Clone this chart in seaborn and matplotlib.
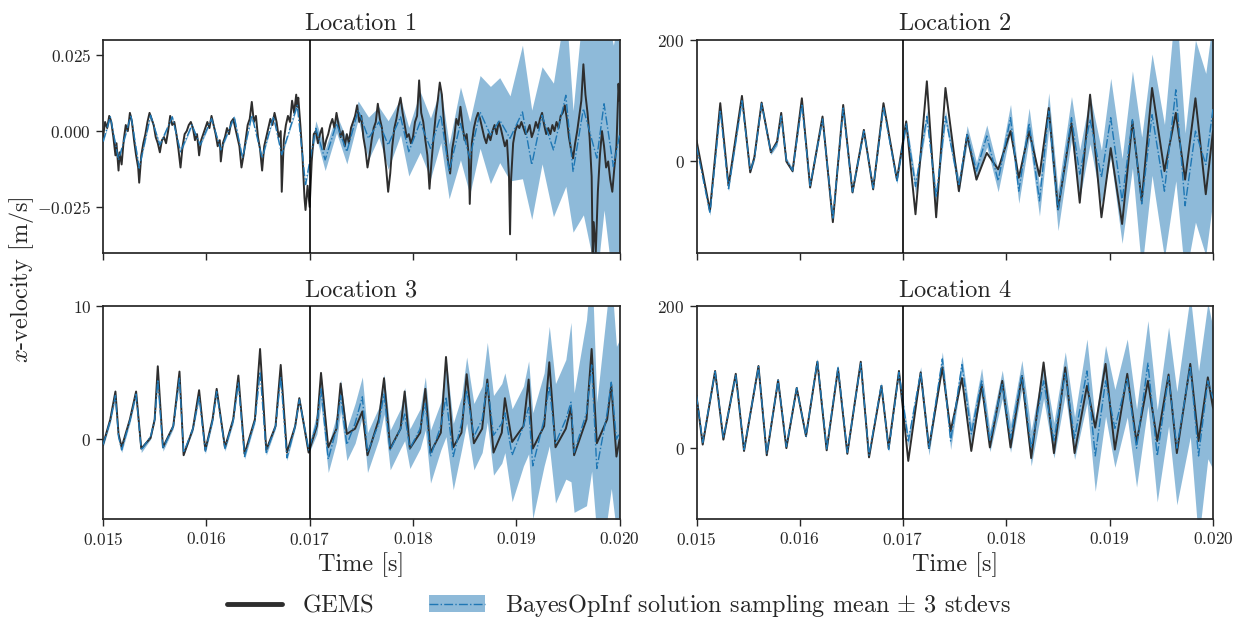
import numpy as np
import pandas as pd
import matplotlib
matplotlib.use("Agg")
import matplotlib.pyplot as plt
import seaborn as sns
from matplotlib.lines import Line2D
from matplotlib.patches import Patch
from matplotlib.legend_handler import HandlerTuple
from matplotlib.ticker import FuncFormatter

# ---------------- data (time in ms) ----------------
# Location 1 (values in 1e-3 m/s)
loc1_gems_t = [15.00, 15.02, 15.04, 15.06, 15.08, 15.10, 15.12, 15.13, 15.15, 15.16, 15.18, 15.20, 15.22, 15.24, 15.26, 15.28,
               15.30, 15.32, 15.34, 15.35, 15.37, 15.39, 15.41, 15.43, 15.45, 15.47, 15.49, 15.51, 15.53, 15.55, 15.57, 15.59,
               15.61, 15.63, 15.65, 15.67, 15.69, 15.71, 15.73, 15.75, 15.77, 15.79, 15.81, 15.83, 15.85, 15.87, 15.89, 15.91,
               15.93, 15.95, 15.97, 15.99, 16.01, 16.03, 16.05, 16.07, 16.09, 16.11, 16.13, 16.14, 16.16, 16.18, 16.20, 16.22,
               16.24, 16.26, 16.28, 16.30, 16.32, 16.34, 16.36, 16.38, 16.40, 16.42, 16.44, 16.46, 16.48, 16.50, 16.52, 16.54,
               16.56, 16.58, 16.60, 16.62, 16.64, 16.66, 16.68, 16.70, 16.72, 16.73, 16.75, 16.77, 16.79, 16.81, 16.83, 16.85,
               16.87, 16.88, 16.89, 16.91, 16.93, 16.95, 16.96, 16.98, 17.00, 17.02, 17.04, 17.06, 17.08, 17.10, 17.12, 17.14,
               17.16, 17.18, 17.20, 17.22, 17.24, 17.26, 17.28, 17.30, 17.32, 17.34, 17.36, 17.38, 17.40, 17.42, 17.44, 17.46,
               17.48, 17.50, 17.52, 17.54, 17.56, 17.58, 17.60, 17.62, 17.64, 17.66, 17.68, 17.70, 17.72, 17.74, 17.76, 17.78,
               17.80, 17.82, 17.84, 17.86, 17.88, 17.90, 17.92, 17.94, 17.96, 17.98, 18.00, 18.02, 18.04, 18.06, 18.08, 18.10,
               18.12, 18.14, 18.16, 18.18, 18.20, 18.22, 18.24, 18.26, 18.28, 18.30, 18.32, 18.34, 18.36, 18.38, 18.40, 18.42,
               18.44, 18.46, 18.48, 18.50, 18.52, 18.54, 18.55, 18.57, 18.59, 18.61, 18.63, 18.65, 18.67, 18.69, 18.71, 18.73,
               18.75, 18.77, 18.79, 18.81, 18.83, 18.85, 18.87, 18.89, 18.91, 18.93, 18.94, 18.95, 18.97, 18.99, 19.01, 19.03,
               19.05, 19.07, 19.09, 19.11, 19.13, 19.15, 19.17, 19.19, 19.21, 19.23, 19.25, 19.27, 19.29, 19.31, 19.33, 19.35,
               19.37, 19.39, 19.41, 19.43, 19.45, 19.47, 19.49, 19.51, 19.53, 19.55, 19.57, 19.59, 19.61, 19.63, 19.65, 19.67,
               19.69, 19.71, 19.73, 19.74, 19.75, 19.77, 19.79, 19.81, 19.83, 19.85, 19.87, 19.89, 19.91, 19.93, 19.95, 19.97,
               19.99, 20.00]
loc1_gems_v = [-2, 3, 1, 5, 3, -2, -8, -4, -13, -7, -11, -3, 2, 0, 6, 3,
               -3, -8, -12, -17, -8, -4, -1, 3, 6, 4, 2, -2, -4, -7, -3, -2,
               -4, 0, 5, 2, 3, -1, -6, -12, -5, -1, 0, 2, 3, 1, -3, -1,
               -8, -3, -1, 1, 3, 1, 5, 2, -1, -5, -3, -10, -4, -2, 1, -1,
               3, 4, 1, -2, -5, -12, -8, -3, 2, 4, 9.6, 3, 5, -2, -6, -13,
               -5, -2, 1, 4, 2, 6, 3, -2, 0, -20, -3, 2, 5, 3, 10, 6,
               12, 8, 11, 2, -8, -22, -26, -18, -25, -10, -1, 0, -4, -1, 1, -6,
               -3, -1, 2, 4, 1, 6, 2, -2, 0, -5, -1, -4, 1, 3, 5, 8.5,
               3, 5, -2, -6, -12, -8, -3, 1, 3, 9, 4, 1, -6, -12, -20, -14,
               -5, 1, 4, 8, 11, 6, 2, -2, -1, -4, -2, 3, 5, 16.7, 6, 3,
               -3, -8, -19, -10, -2, 5, 10, 16, 12, 3, -4, -10, -14, -6, -2, 4,
               2, 8, 2, -3, -1, -8, -24, -4, 1, 4, 6, 4, 1, -2, -4, -1,
               -3, 0, 2, -1, 3, 1, -2, -5, -3, -15, -34, -16, -4, 0, 2, 1,
               3, 1, -1, 0, 2, -2, 0, 3, 1, 4, 6, 2, -1, 1, -1, 2,
               0, 3, 1, 5, 6, 8.5, 4, -2, -6, -9, -4, 0, 5, 10, 22, 12,
               6, -2, -15, -40, -30, -40, -20, -8, 0, -5, -12, -10, -16, -20, -12, -5,
               15.6, 10]
loc1_mean_t = [15.00, 15.07, 15.15, 15.27, 15.35, 15.46, 15.55, 15.67, 15.75, 15.86, 15.94, 16.05, 16.14, 16.27, 16.35, 16.44,
               16.54, 16.65, 16.73, 16.88, 16.96, 17.03, 17.06, 17.15, 17.26, 17.36, 17.47, 17.57, 17.67, 17.76, 17.88, 17.96,
               18.07, 18.17, 18.27, 18.35, 18.46, 18.55, 18.65, 18.75, 18.84, 18.94, 19.06, 19.15, 19.25, 19.36, 19.48, 19.55,
               19.65, 19.78, 19.85, 19.94, 20.00]
loc1_mean_v = [-3.5, 4.7, -9.5, 5.2, -12.2, 5.2, -4.6, 4.7, -6.8, 2.0, -4.6, 4.1, -6.2, 4.7, -8.9, 5.2,
               -8.9, 4.7, -7.8, 8.5, -17.6, -4.6, 0.9, -9.5, 2.5, -6.8, 6.9, -2.4, 3.0, -4.6, 4.7, -6.8,
               3.0, -5.7, 5.2, -13.3, 2.5, -8.9, 6.3, -1.3, 3.6, -2.4, 6.3, -11.1, 5.2, -6.2, 11.8, -13.3,
               7.4, -8.9, 9.0, -11.7, -1.3]
loc1_3std = [0.5, 0.5, 0.5, 0.5, 0.5, 0.5, 0.5, 0.5, 0.5, 0.5, 0.5, 0.5, 0.5, 0.5, 0.5, 0.5,
             0.5, 0.5, 0.5, 0.5, 0.6, 1.5, 2.5, 3.5, 3.0, 4.0, 3.0, 7.0, 5.0, 8.0, 6.0, 8.0,
             10, 10, 9, 9, 12, 12, 12, 16, 14, 14, 22, 18, 16, 22, 30, 20,
             35, 40, 35, 40, 40]

# Location 2
loc2_t = [15.00, 15.13, 15.23, 15.31, 15.44, 15.52, 15.56, 15.63, 15.72, 15.78, 15.82, 15.87, 15.93, 16.02, 16.10, 16.22,
          16.32, 16.42, 16.51, 16.62, 16.71, 16.81, 16.94, 17.03, 17.12, 17.23, 17.32, 17.41, 17.54, 17.62, 17.71, 17.81,
          17.92, 18.04, 18.12, 18.22, 18.32, 18.41, 18.50, 18.63, 18.71, 18.81, 18.92, 19.01, 19.12, 19.22, 19.31, 19.41,
          19.53, 19.64, 19.73, 19.83, 19.93, 20.00]
loc2_gems = [35, -81, 96, -40, 108, -18, 7, 97, 15, 33, 80, 0, -16, 104, -43, 74,
             -100, 93, -51, 52, -46, 96, -30, 66, -87, 132, -92, 121, -49, 44, -30, 14,
             -13, 50, -27, 50, -24, 88, -79, 63, -68, 110, -92, 22, -103, 66, -65, 121,
             -16, 80, -30, 104, -54, 50]
loc2_mean = [25, -85, 85, -45, 100, -15, 5, 95, 15, 30, 75, 2, -15, 95, -40, 70,
             -95, 88, -50, 50, -44, 90, -32, 62, -41, 74, -59, 74, -40, 44, -16, 42,
             -32, 72, -49, 63, -65, 83, -81, 72, -21, 69, -26, 72, -65, 69, -70, 77,
             -49, 118, -73, 50, -5, 87]
loc2_3std = [4, 4, 4, 4, 4, 4, 4, 4, 4, 4, 4, 4, 4, 4, 4, 4,
             4, 4, 4, 4, 4, 4, 5, 8, 12, 10, 12, 10, 12, 15, 15, 18,
             18, 22, 20, 25, 25, 30, 33, 35, 40, 40, 45, 65, 70, 80, 110, 100,
             110, 150, 120, 150, 150, 150]

# Location 3
loc3_t = [15.00, 15.07, 15.12, 15.15, 15.18, 15.26, 15.32, 15.37, 15.46, 15.50, 15.53, 15.58, 15.68, 15.74, 15.78, 15.87,
          15.93, 15.99, 16.06, 16.10, 16.18, 16.26, 16.31, 16.37, 16.47, 16.52, 16.58, 16.67, 16.72, 16.78, 16.86, 16.90,
          16.99, 17.07, 17.11, 17.18, 17.26, 17.30, 17.36, 17.44, 17.51, 17.56, 17.67, 17.72, 17.78, 17.88, 17.92, 17.97,
          18.07, 18.12, 18.17, 18.27, 18.32, 18.39, 18.47, 18.52, 18.59, 18.67, 18.72, 18.78, 18.86, 18.89, 18.96, 19.07,
          19.12, 19.16, 19.27, 19.32, 19.38, 19.48, 19.53, 19.56, 19.68, 19.73, 19.78, 19.88, 19.92, 19.97, 20.00]
loc3_gems = [-0.4, 1.5, 3.6, 0.4, -0.6, 1.5, 3.6, -0.7, 0.1, 1.5, 5.5, -0.6, 1.0, 5.1, -1.2, 0.8,
             3.7, -0.8, 1.5, 3.8, -0.6, 1.5, 4.8, -1.1, 1.5, 6.8, -0.8, 1.0, 5.6, -1.0, 1.0, 3.1,
             -1.0, 1.0, 5.0, -0.6, 0.8, 4.2, 0.4, 0.8, 2.1, -1.2, 1.5, 4.6, -0.7, 0.8, 3.6, -0.7,
             0.5, 3.8, -1.0, 0.5, 6.2, -0.6, 0.5, 4.9, -0.3, 0.8, 4.5, -1.0, 0.5, 3.1, -0.2, 1.0,
             4.5, -0.7, 1.0, 5.8, -0.6, 0.8, 2.4, -1.2, 1.5, 6.8, -0.3, 1.5, 4.1, -1.3, 0.0]
loc3_mean = [-0.4, 1.4, 3.3, 0.2, -0.8, 1.4, 3.4, -0.8, 0.2, 1.5, 4.5, -0.7, 1.0, 4.6, -1.0, 0.8,
             3.2, -0.9, 1.4, 3.6, -0.7, 1.4, 4.3, -1.3, 1.4, 5.1, -1.0, 1.0, 4.7, -1.4, 1.0, 3.0,
             -0.8, 1.2, 3.8, -1.5, 0.8, 3.3, -0.4, 1.2, 3.2, -1.0, 1.2, 3.4, -0.8, 0.8, 1.9, -0.7,
             0.8, 2.7, -1.3, 1.0, 3.2, -1.3, 1.2, 3.7, 0.2, 1.5, 4.3, 0.3, 1.2, 2.0, -1.2, 1.0,
             2.4, -2.0, 1.5, 4.0, -0.3, 1.5, 2.8, -1.0, 2.0, 5.6, -2.2, 2.0, 4.3, 0.0, 0.5]
loc3_3std = [0.2, 0.2, 0.2, 0.2, 0.2, 0.2, 0.2, 0.2, 0.2, 0.2, 0.2, 0.2, 0.2, 0.2, 0.2, 0.2,
             0.2, 0.2, 0.2, 0.2, 0.2, 0.2, 0.2, 0.2, 0.2, 0.2, 0.2, 0.2, 0.2, 0.2, 0.2, 0.2,
             0.3, 0.8, 1.2, 1.0, 1.0, 1.2, 1.2, 1.5, 1.5, 1.5, 1.2, 1.5, 1.5, 1.5, 2.0, 1.5,
             1.5, 2.0, 2.0, 1.8, 3.0, 2.5, 2.0, 2.5, 2.5, 2.5, 3.0, 3.0, 3.0, 3.0, 3.5, 3.0,
             3.5, 4.0, 3.5, 4.5, 4.5, 4.5, 6.0, 4.5, 7.0, 8.0, 5.0, 8.0, 8.0, 7.0, 7.0]

# Location 4
loc4_t = [15.00, 15.06, 15.18, 15.26, 15.38, 15.46, 15.60, 15.68, 15.79, 15.87, 15.97, 16.06, 16.17, 16.26, 16.37, 16.46,
          16.59, 16.67, 16.79, 16.86, 16.96, 17.05, 17.17, 17.25, 17.38, 17.46, 17.57, 17.66, 17.76, 17.84, 17.96, 18.04,
          18.15, 18.24, 18.36, 18.46, 18.57, 18.66, 18.78, 18.86, 18.96, 19.05, 19.17, 19.26, 19.37, 19.46, 19.57, 19.65,
          19.78, 19.86, 19.95, 20.00]
loc4_gems = [74, 5, 109, 12, 105, -4, 116, -10, 96, 0, 85, 17, 122, -3, 112, -8,
             122, -13, 88, 0, 109, -18, 107, 0, 114, 24, 99, -4, 90, 1, 95, 1,
             102, -14, 121, -7, 114, -7, 88, 29, 119, -2, 105, 8, 95, 10, 104, -7,
             119, 10, 100, 57]
loc4_mean = [74, 8, 108, 14, 103, -2, 115, -8, 96, 2, 85, 17, 124, -1, 114, -6,
             120, -10, 90, -2, 107, 10, 107, 0, 126, 10, 118, 20, 95, 10, 90, 14,
             104, 0, 95, 11, 106, 14, 109, -11, 95, 28, 99, 0, 120, -11, 101, 0,
             116, -11, 95, 70]
loc4_3std = [3, 3, 3, 3, 3, 3, 3, 3, 3, 3, 3, 3, 3, 3, 3, 3,
             3, 3, 3, 3, 3, 8, 8, 10, 10, 12, 12, 15, 18, 15, 20, 20,
             20, 25, 25, 25, 30, 30, 45, 50, 50, 55, 55, 55, 60, 65, 70, 80,
             100, 120, 110, 100]

titles = ["Location 1", "Location 2", "Location 3", "Location 4"]
ylims = [(-0.04, 0.03), (-150, 200), (-6, 10), (-100, 200)]
yticks = [[-0.025, 0.0, 0.025], [0, 200], [0, 10], [0, 200]]
xticks = [0.015, 0.016, 0.017, 0.018, 0.019, 0.020]
t_split = 0.017

# ---------------- style ----------------
sns.set_theme(style="ticks")
plt.rcParams.update({
    "font.family": "serif",
    "font.serif": ["cmr10", "DejaVu Serif"],
    "mathtext.fontset": "cm",
    "axes.unicode_minus": False,
    "axes.formatter.use_mathtext": True,
    "axes.edgecolor": "0.15",
    "lines.solid_joinstyle": "round",
    "lines.dash_joinstyle": "round",
})

GEMS_C = "#2e2e2e"
BLUE = "#1f77b4"

fig, axes = plt.subplots(2, 2, figsize=(12.37, 6.3), dpi=100, sharex=True)
fig.subplots_adjust(left=0.0833, right=0.9806, bottom=0.1762, top=0.9365, wspace=0.149, hspace=0.254)

panels = [
    (loc1_gems_t, [v * 1e-3 for v in loc1_gems_v], loc1_mean_t, [v * 1e-3 for v in loc1_mean_v], [v * 1e-3 for v in loc1_3std]),
    (loc2_t, loc2_gems, loc2_t, loc2_mean, loc2_3std),
    (loc3_t, loc3_gems, loc3_t, loc3_mean, loc3_3std),
    (loc4_t, loc4_gems, loc4_t, loc4_mean, loc4_3std),
]

def fmt_factory(dec):
    def f(x, pos):
        return f"${x:.{dec}f}$"
    return FuncFormatter(f)

for i, ax in enumerate(axes.flat):
    gt, gv, mt, mv, sd = panels[i]
    gt = np.array(gt) * 1e-3
    mt = np.array(mt) * 1e-3
    mv = np.array(mv, dtype=float)
    sd = np.array(sd, dtype=float)
    ax.fill_between(mt, mv - sd, mv + sd, color=BLUE, alpha=0.5, linewidth=0, zorder=1)
    sns.lineplot(x=gt, y=gv, ax=ax, color=GEMS_C, linewidth=1.4, estimator=None, sort=False, zorder=2)
    sns.lineplot(x=mt, y=mv, ax=ax, color=BLUE, linewidth=1.0, linestyle="-.", estimator=None, sort=False, zorder=3)
    ax.axvline(t_split, color="black", linewidth=1.2, zorder=4)
    ax.set_xlim(0.015, 0.020)
    ax.set_ylim(*ylims[i])
    ax.set_yticks(yticks[i])
    ax.set_xticks(xticks)
    ax.yaxis.set_major_formatter(fmt_factory(3 if i == 0 else 0))
    ax.xaxis.set_major_formatter(fmt_factory(3))
    ax.set_title(titles[i], fontsize=17.5, pad=7)
    ax.tick_params(labelsize=12.5, length=5, width=1, direction="out")
    ax.set_xlabel("")
    ax.set_ylabel("")
    if i >= 2:
        ax.set_xlabel("Time [s]", fontsize=17.5, labelpad=3)

fig.text(0.017, 0.556, "$x$-velocity [m/s]", rotation=90, fontsize=17.5, ha="center", va="center")

h1 = Line2D([], [], color=GEMS_C, linewidth=3.5)
h2p = Patch(facecolor=BLUE, alpha=0.5, edgecolor="none")
h2l = Line2D([], [], color=BLUE, linewidth=1.0, linestyle="-.")
fig.legend([h1, (h2p, h2l)], ["GEMS", r"BayesOpInf solution sampling mean $\pm$ 3 stdevs"],
           handler_map={tuple: HandlerTuple(ndivide=1, pad=0)},
           loc="lower center", bbox_to_anchor=(0.5, -0.018), ncol=2, frameon=False,
           fontsize=17.5, handlelength=2.3, columnspacing=2.25, handletextpad=0.82)

fig.savefig("out.png", dpi=100)
